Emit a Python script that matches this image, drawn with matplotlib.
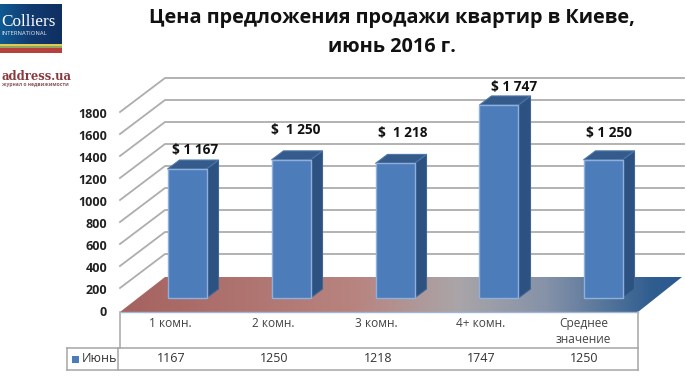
import numpy as np
import matplotlib
matplotlib.use("Agg")
import matplotlib.pyplot as plt
from matplotlib.patches import Polygon, Rectangle
from matplotlib.transforms import Affine2D
from matplotlib.colors import LinearSegmentedColormap

plt.rcParams['font.family'] = ['Open Sans', 'DejaVu Sans']

categories = ["1 комн.", "2 комн.", "3 комн.", "4+ комн.", "Среднее\nзначение"]
values = [1167, 1250, 1218, 1747, 1250]
table_values = ["1167", "1250", "1218", "1747", "1250"]
data_labels = ["$ 1 167", "$  1 250", "$  1 218", "$ 1 747", "$ 1 250"]
label_px = [(195, 150), (296, 130), (403, 133), (514, 87), (609, 133)]
yticks = [0, 200, 400, 600, 800, 1000, 1200, 1400, 1600, 1800]
series_name = "Июнь"
title_lines = ["Цена предложения продажи квартир в Киеве,", "июнь 2016 г."]

W, H = 686, 386
fig = plt.figure(figsize=(W / 100, H / 100), dpi=100, facecolor="white")
ax = fig.add_axes([0, 0, 1, 1])
ax.axis("off")

# data scales: category index -> pixel, value -> pixel
PX_CAT, X0 = 104.0, 187.0
PX_VAL, Y0 = 0.1105, 298.0


def reset_limits():
    ax.set_xlim((0 - X0) / PX_CAT, (W - X0) / PX_CAT)
    ax.set_ylim((Y0 - H) / PX_VAL, Y0 / PX_VAL)


reset_limits()
pix = Affine2D().scale(1 / W, -1 / H).translate(0, 1) + ax.transAxes

# wall gridlines and left diagonals
TICK_Y0, TICK_SCALE = 310.0, 0.11
DX, DY = 45, 34
for v in yticks:
    yp = TICK_Y0 - TICK_SCALE * v
    if v > 0:
        ax.plot([120, 120 + DX, 684], [yp, yp - DY, yp - DY], transform=pix,
                color="#adadad", lw=1.3, zorder=1)
    ax.text(107, yp + 2, str(v), transform=pix, ha="right", va="center",
            fontsize=9, fontweight="bold", color="#222222")

# floor with gradient
floor_cmap = LinearSegmentedColormap.from_list(
    "floor", [(0, "#a5625f"), (0.42, "#b88480"), (0.6, "#aaa5a8"), (0.76, "#8592a8"),
              (0.95, "#2f5d90"), (1, "#2c5a8e")])
floor = Polygon([(120, 312), (165, 277), (682, 277), (638, 312)], closed=True,
                transform=pix, fc="none", ec="none")
ax.add_patch(floor)
grad = np.linspace(0, 1, 256).reshape(1, -1)
im = ax.imshow(grad, cmap=floor_cmap, aspect="auto", zorder=2, transform=pix,
               extent=(120, 682, 312, 277))
im.set_clip_path(floor)
reset_limits()

# bars: front face through data scales, side and top faces derived from it
x = np.arange(len(values))
BAR_W = 39 / PX_CAT
D_X, D_Y = 12 / PX_CAT, 9 / PX_VAL
for xi, v in zip(x, values):
    l, r = xi - BAR_W / 2, xi + BAR_W / 2
    side = Polygon([(r, 0), (r + D_X, D_Y), (r + D_X, v + D_Y), (r, v)],
                   fc="#2d5282", ec="#3e6796", lw=0.8, zorder=4)
    top = Polygon([(l, v), (l + D_X, v + D_Y), (r + D_X, v + D_Y), (r, v)],
                  fc="#355a8c", ec="#4a76a8", lw=0.8, zorder=4)
    ax.add_patch(side)
    ax.add_patch(top)
bars = ax.bar(x, values, width=BAR_W, color="#4c7dba", edgecolor="#8fb0da", lw=1.0, zorder=5)
for (lab, (px, py)) in zip(data_labels, label_px):
    ax.text(px, py, lab, transform=pix, ha="center", va="center", fontsize=9.8,
            fontweight="bold", color="#111111", zorder=6)

# data table
line = dict(transform=pix, color="#a6a6a6", lw=1.1, zorder=3)
ax.plot([120, 120], [312, 348], **line)
ax.plot([638, 638], [312, 370], **line)
ax.plot([67, 638], [348, 348], **line)
ax.plot([67, 638], [370, 370], **line)
ax.plot([67, 67], [348, 370], **line)
ax.plot([118, 118], [348, 370], **line)
ax.plot([120, 638], [312, 312], transform=pix, color="#9fb7d3", lw=1.0, zorder=3)
ax.add_patch(Rectangle((72, 356), 7, 7, transform=pix, fc="#4c7dba", ec="none", zorder=4))
ax.text(82, 358.5, series_name, transform=pix, ha="left", va="center", fontsize=9, color="#333333")
for xi, cat, tv in zip(x, categories, table_values):
    xp = 171 + xi * 103.4
    if "\n" in cat:
        ax.text(xp - 1, 331.5, cat, transform=pix, ha="center", va="center", fontsize=8.6,
                color="#444444", linespacing=1.35)
    else:
        ax.text(xp - 1, 323.5, cat, transform=pix, ha="center", va="center", fontsize=8.6, color="#444444")
    ax.text(xp, 359, tv, transform=pix, ha="center", va="center", fontsize=9, color="#333333")

# title
ax.text(392, 18.5, title_lines[0], transform=pix, ha="center", va="center", fontsize=14.3,
        fontweight="bold", color="#111111")
ax.text(392, 46.5, title_lines[1], transform=pix, ha="center", va="center", fontsize=14.3,
        fontweight="bold", color="#111111")

# logo
logo_cmap = LinearSegmentedColormap.from_list("logo", ["#0f5a92", "#123a70", "#0f2f62"])
logo = Rectangle((-2, 4), 64, 40, transform=pix, fc="none", ec="none")
ax.add_patch(logo)
im2 = ax.imshow(np.linspace(0, 1, 64).reshape(1, -1), cmap=logo_cmap, aspect="auto", zorder=2,
                transform=pix, extent=(0, 62, 44, 4))
im2.set_clip_path(logo)
reset_limits()
for y0, h, c in [(44, 2, "#e0c94e"), (46, 2, "#8aa860"), (48, 5, "#b8403c")]:
    ax.add_patch(Rectangle((0, y0), 62, h, transform=pix, fc=c, ec="none", zorder=3))
ax.text(1, 22, "Colliers", transform=pix, ha="left", va="center", fontsize=12.3,
        family="Liberation Serif", color="white", zorder=4)
ax.text(1, 33.5, "INTERNATIONAL", transform=pix, ha="left", va="center", fontsize=4.2,
        color="#e8eef5", zorder=4)
ax.text(1, 77, "address.ua", transform=pix, ha="left", va="center", fontsize=8.3,
        family="DejaVu Serif", fontweight="bold", color="#8a3a3f")
ax.text(2, 84.5, "журнал о недвижимости", transform=pix, ha="left", va="center", fontsize=3.6,
        fontweight="bold", color="#8a5a5f")

fig.savefig("out.png", dpi=100, facecolor="white")
